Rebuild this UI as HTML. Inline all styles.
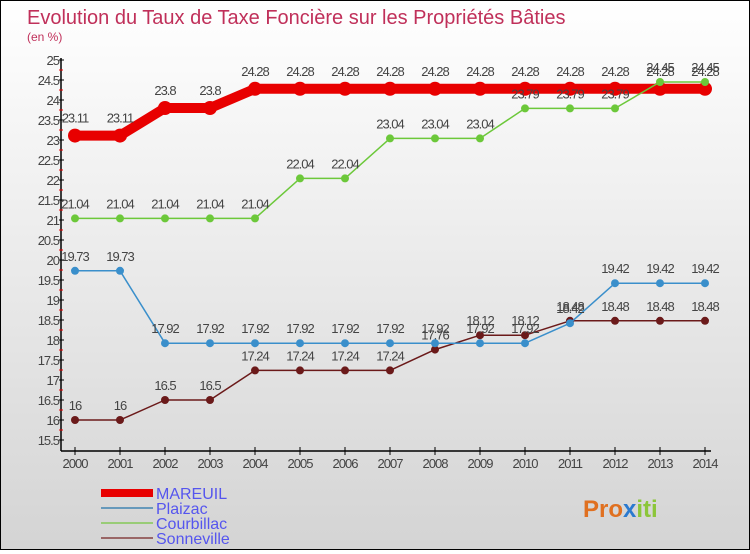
<!DOCTYPE html>
<html><head><meta charset="utf-8"><style>
body{margin:0;width:750px;height:550px;overflow:hidden;font-family:"Liberation Sans",sans-serif}
#wrap{position:relative;width:748px;height:548px;border:1px solid #000;background:linear-gradient(#fff,#d4d4d4)}
</style></head><body>
<div id="wrap">
<svg id="svg" width="748" height="548"></svg>
</div>
<script>
const years=[2000,2001,2002,2003,2004,2005,2006,2007,2008,2009,2010,2011,2012,2013,2014];
const mareuil=[23.11,23.11,23.8,23.8,24.28,24.28,24.28,24.28,24.28,24.28,24.28,24.28,24.28,24.28,24.28];
const plaizac=[19.73,19.73,17.92,17.92,17.92,17.92,17.92,17.92,17.92,17.92,17.92,18.42,19.42,19.42,19.42];
const courbillac=[21.04,21.04,21.04,21.04,21.04,22.04,22.04,23.04,23.04,23.04,23.79,23.79,23.79,24.45,24.45];
const sonneville=[16,16,16.5,16.5,17.24,17.24,17.24,17.24,17.76,18.12,18.12,18.48,18.48,18.48,18.48];
const yTicks=[15.5,16,16.5,17,17.5,18,18.5,19,19.5,20,20.5,21,21.5,22,22.5,23,23.5,24,24.5,25];
const seriesNames=["MAREUIL","Plaizac","Courbillac","Sonneville"];
const NS="http://www.w3.org/2000/svg",svg=document.getElementById('svg');
const X=i=>74+i*45, Y=v=>439-(v-15.5)*40;
function el(t,a,p){const e=document.createElementNS(NS,t);for(const k in a)e.setAttribute(k,a[k]);(p||svg).appendChild(e);return e;}
function txt(x,y,s,a){const e=el('text',Object.assign({x:x,y:y},a));e.textContent=s;return e;}
let t=txt(26,23,"Evolution du Taux de Taxe Foncière sur les Propriétés Bâties",{fill:"#c0305a","font-size":20});

t=txt(26,40,"(en %)",{fill:"#c0305a","font-size":12});

let a=el('line',{x1:60,y1:57,x2:60,y2:450,stroke:"#000","stroke-width":1.5});

a=el('line',{x1:60,y1:450,x2:710,y2:450,stroke:"#000","stroke-width":1.5});

yTicks.forEach(v=>{el('line',{x1:58,x2:63,y1:Y(v),y2:Y(v),stroke:"#000"});
 if(v<25)el('line',{x1:58,x2:62,y1:Y(v+0.25),y2:Y(v+0.25),stroke:"#e00"});
 const l=txt(58,Y(v)+5,String(v),{fill:"#444","font-size":13,"text-anchor":"end","letter-spacing":-1});
 });
years.forEach((y,i)=>{el('line',{x1:X(i),x2:X(i),y1:446,y2:454,stroke:"#000"});
 const l=txt(X(i),467,String(y),{fill:"#444","font-size":13,"text-anchor":"middle","letter-spacing":-1});
 });
function series(data,color,w,r,name){
 const g=el('g',{});
 el('polyline',{points:data.map((v,i)=>X(i)+","+Y(v)).join(" "),fill:"none",stroke:color,"stroke-width":w,"stroke-linejoin":"round"},g);
 data.forEach((v,i)=>{const c=el('circle',{cx:X(i),cy:Y(v),r:r,fill:color},g);
  
  const l=txt(X(i),Y(v)-r-6,String(v),{fill:"#444","font-size":13,"text-anchor":"middle","letter-spacing":-1},g);
  });
}
series(sonneville,"#6b1a1a",1.5,4,"sonneville");
series(plaizac,"#3a8fcb",1.5,4,"plaizac");
series(mareuil,"#e80000",10,7,"mareuil");
series(courbillac,"#6cc83a",1.5,4,"courbillac");
const lc=["#e80000","#6699bb","#99cc77","#996666"],lw=[8,2,2,2];
seriesNames.forEach((n,i)=>{const g=el('g',{});
 el('line',{x1:100,x2:152,y1:492+i*15,y2:492+i*15,stroke:lc[i],"stroke-width":lw[i]},g);
 txt(155,498+i*15,n,{fill:"#5555ee","font-size":16},g);});
t=el('text',{x:582,y:516,"font-size":24,"font-weight":"bold"});

t.innerHTML='<tspan fill="#e07020">Pro</tspan><tspan fill="#2a7ad0">x</tspan><tspan fill="#8cc63a">iti</tspan>';
</script>
</body></html>
